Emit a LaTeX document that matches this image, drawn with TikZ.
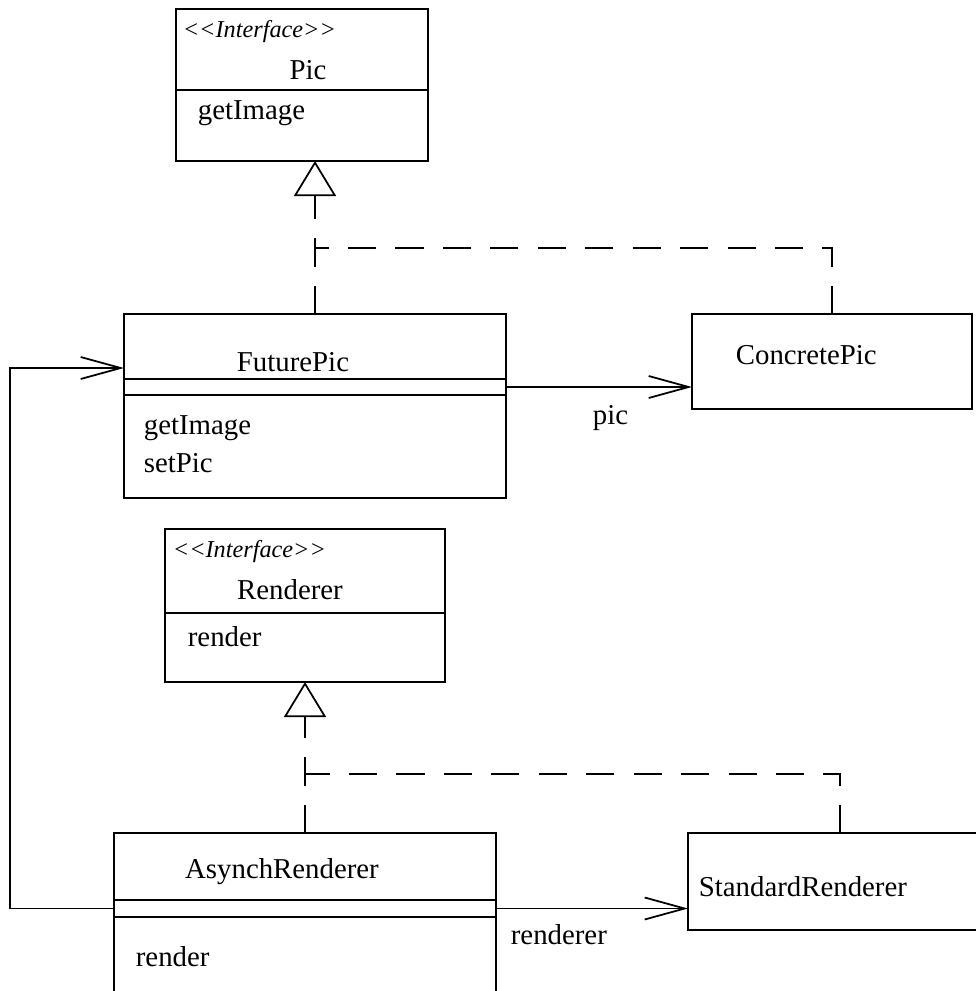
\documentclass[tikz,border=0pt]{standalone}
\usepackage{fontspec}
\setmainfont{Liberation Serif}
\usetikzlibrary{arrows.meta,positioning,calc}
\newcommand{\stereotag}[1]{\textless\kern0pt\textless#1\textgreater\kern0pt\textgreater}

\begin{document}
\begin{tikzpicture}[x=0.2mm,y=-0.2mm,
  font=\fontsize{16.4}{19}\selectfont,
  line width=1pt,
  comp/.style={draw,inner sep=0pt,outer sep=0pt,anchor=north west},
  title/.style={inner sep=0pt},
  op/.style={inner sep=0pt,anchor=west},
  stereo/.style={inner sep=0pt,anchor=west,font=\fontsize{13.8}{16}\selectfont\itshape},
  real/.style={dash pattern=on 16pt off 11pt},
  gen/.style={real,-{Triangle[open,length=7mm,width=8.4mm]}},
  assoc/.style={-{Straight Barb[length=8mm,width=4.4mm]}}
]
\useasboundingbox (0,0) rectangle (976,991);
\clip (0,0) rectangle (976,991);

\node[comp,minimum width=50.4mm,minimum height=16.2mm] (picname) at (176,9) {};
\node[comp,minimum width=50.4mm,minimum height=14.2mm] (picops) at (picname.south west) {};
\node[stereo] (picster) at (182,32) {\stereotag{Interface}};
\node[title] (pictitle) at (308,70) {Pic};
\node[op] (picget) at (197,113) {getImage};

\node[comp,minimum width=76.4mm,minimum height=13mm] (futname) at (124,314) {};
\node[comp,minimum width=76.4mm,minimum height=3.2mm] (futattr) at (futname.south west) {};
\node[comp,minimum width=76.4mm,minimum height=20.6mm] (futops) at (futattr.south west) {};
\node[title] (futtitle) at (293,362) {FuturePic};
\node[op] (futget) at (143,428) {getImage};
\node[op] (futset) at (143,463) {setPic};

\node[comp,minimum width=56mm,minimum height=19mm] (concrete) at (692,314) {};
\node[op] (conctitle) at (735,355) {ConcretePic};

\node[comp,minimum width=56mm,minimum height=16.8mm] (rendname) at (165,529) {};
\node[comp,minimum width=56mm,minimum height=13.8mm] (rendops) at (rendname.south west) {};
\node[stereo] (rendster) at (172,552) {\stereotag{Interface}};
\node[title] (rendtitle) at (290,590) {Renderer};
\node[op] (rendop) at (187,637) {render};

\node[comp,minimum width=76.4mm,minimum height=13.4mm] (asyname) at (114,833) {};
\node[comp,minimum width=76.4mm,minimum height=3.4mm] (asyattr) at (asyname.south west) {};
\node[comp,minimum width=76.4mm,minimum height=18.6mm] (asyops) at (asyattr.south west) {};
\node[title] (asytitle) at (282,872) {AsynchRenderer};
\node[op] (asyop) at (135,957) {render};

\node[comp,minimum width=60.8mm,minimum height=19.4mm] (standard) at (688,833) {};
\node[op] (stdtitle) at (698,887) {StandardRenderer};

\coordinate (picjoin) at ($(futname.north)+(0,-66)$);
\draw[gen] (futname.north) -- (futname.north |- picops.south);
\draw[real] (concrete.north) |- (picjoin);

\coordinate (rendjoin) at ($(asyname.north)+(0,-59)$);
\draw[gen] (asyname.north) -- (asyname.north |- rendops.south);
\draw[real] (standard.north) |- (rendjoin);

\draw[assoc] (futattr.east) -- (futattr.east -| concrete.west);
\node[op] (piclbl) at (592,418) {pic};

\draw[assoc] (asyattr.east) -- (asyattr.east -| standard.west);
\node[op] (rendlbl) at (510,935) {renderer};

\coordinate (futin) at ($(futname.south west)+(0,-11)$);
\draw[assoc] (asyattr.west) -- ++(-104,0) |- (futin);
\end{tikzpicture}
\end{document}
